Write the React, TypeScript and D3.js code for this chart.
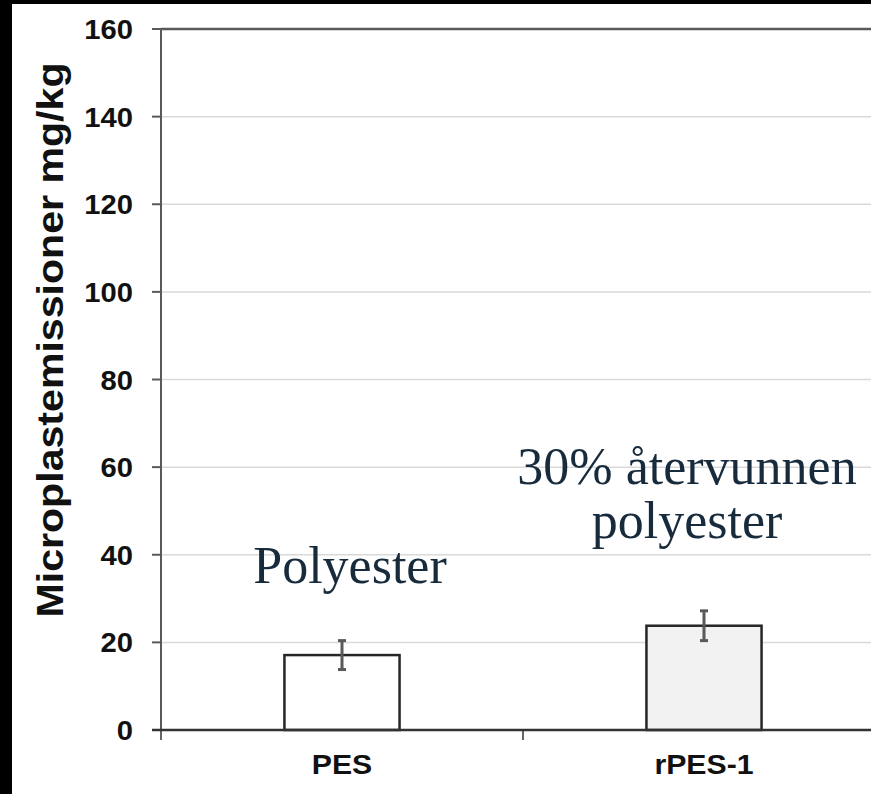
import React from 'react';
import * as d3 from 'd3';

const categories = ['PES', 'rPES-1'];
const values = [17.1, 23.8];
const errors = [3.3, 3.4];
const fills = ['#ffffff', '#f2f2f2'];
const yTicks = [0, 20, 40, 60, 80, 100, 120, 140, 160];
const yLabel = 'Microplastemissioner mg/kg';
const noteLeft = ['Polyester'];
const noteRight = ['30% återvunnen', 'polyester'];

const W = 871;
const H = 794;
const left = 161;
const right = 885;
const top = 29;
const bottom = 730;
const sx = 1.08; // labels look a bit wider than tall

const App: React.FC = () => {
  const x = d3.scaleBand<string>().domain(categories).range([left, right]);
  const y = d3.scaleLinear().domain([0, 160]).range([bottom, top]);
  const barW = x.bandwidth() * 0.318;
  const sans = 'Liberation Sans, Arial, sans-serif';
  const serif = 'Liberation Serif, Times New Roman, serif';

  return (
    <svg width={W} height={H} style={{ position: 'absolute', left: 0, top: 0 }}>
      <rect x={0} y={0} width={W} height={H} fill="#000" />
      <rect x={12} y={4} width={W - 12} height={H - 4} fill="#fff" />

      {/* grid */}
      {yTicks.filter(t => t > 0 && t < 160).map(t => (
        <line key={t} x1={left} x2={W} y1={y(t)} y2={y(t)} stroke="#d9d9d9" strokeWidth={1.5} />
      ))}
      <line x1={left} x2={W} y1={y(160)} y2={y(160)} stroke="#5a5a5a" strokeWidth={2.5} />

      {/* y axis */}
      <line x1={left} x2={left} y1={top} y2={bottom} stroke="#5a5a5a" strokeWidth={2} />
      {yTicks.map(t => (
        <g key={t}>
          <line x1={left - 9} x2={left} y1={y(t)} y2={y(t)} stroke="#5a5a5a" strokeWidth={2} />
          <text
            transform={`translate(133,${y(t) + 10}) scale(${sx},1)`}
            textAnchor="end"
            fontFamily={sans}
            fontWeight="bold"
            fontSize={27}
            fill="#111"
          >
            {t}
          </text>
        </g>
      ))}
      <text
        transform={`translate(63,${340}) rotate(-90)`}
        textAnchor="middle"
        fontFamily={sans}
        fontWeight="bold"
        fontSize={36}
        textLength={555}
        lengthAdjust="spacingAndGlyphs"
        fill="#111"
      >
        {yLabel}
      </text>

      {/* bars */}
      {categories.map((c, i) => {
        const cx = (x(c) ?? 0) + x.bandwidth() / 2;
        return (
          <g key={c}>
            <rect
              x={cx - barW / 2}
              y={y(values[i])}
              width={barW}
              height={bottom - y(values[i])}
              fill={fills[i]}
              stroke="#262626"
              strokeWidth={2.5}
            />
            <line x1={cx} x2={cx} y1={y(values[i] + errors[i])} y2={y(values[i] - errors[i])} stroke="#595959" strokeWidth={3} />
            <line x1={cx - 4} x2={cx + 4} y1={y(values[i] + errors[i])} y2={y(values[i] + errors[i])} stroke="#595959" strokeWidth={3} />
            <line x1={cx - 4} x2={cx + 4} y1={y(values[i] - errors[i])} y2={y(values[i] - errors[i])} stroke="#595959" strokeWidth={3} />
            <text
              transform={`translate(${cx},774) scale(${sx},1)`}
              textAnchor="middle"
              fontFamily={sans}
              fontWeight="bold"
              fontSize={28}
              fill="#111"
            >
              {c}
            </text>
          </g>
        );
      })}

      {/* x axis */}
      <line x1={left - 9} x2={W} y1={bottom} y2={bottom} stroke="#333" strokeWidth={2.5} />
      {[left, left + x.bandwidth(), right].map(v => (
        <line key={v} x1={v} x2={v} y1={bottom} y2={bottom + 10} stroke="#333" strokeWidth={1.5} />
      ))}

      {/* annotations */}
      {noteLeft.map((s, i) => (
        <text key={s} x={(x('PES') ?? 0) + x.bandwidth() / 2 + 8} y={583 + i * 55} textAnchor="middle"
          fontFamily={serif} fontSize={52} fill="#172b3d">{s}</text>
      ))}
      {noteRight.map((s, i) => (
        <text key={s} x={(x('rPES-1') ?? 0) + x.bandwidth() / 2 - 17} y={484 + i * 54} textAnchor="middle"
          fontFamily={serif} fontSize={52} fill="#172b3d">{s}</text>
      ))}
    </svg>
  );
};

export default App;
